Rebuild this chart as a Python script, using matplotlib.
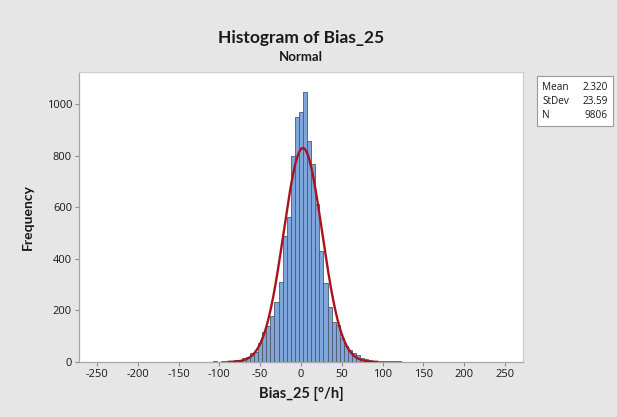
import matplotlib
matplotlib.use("Agg")
import matplotlib.pyplot as plt
from matplotlib.patches import Rectangle
import numpy as np

plt.rcParams['font.family'] = ['Open Sans', 'DejaVu Sans']
plt.rcParams['axes.unicode_minus'] = False
bold_font = ['Lato', 'DejaVu Sans']

# bin midpoints (width 5) and frequencies
mids = list(range(-145, 155, 5))
counts = [1, 0, 1, 1, 1, 1, 1, 1, 2, 1, 2, 2, 3, 6, 9, 14, 20, 35, 40, 72,
          115, 141, 180, 231, 311, 490, 561, 798, 948, 970, 1045, 857, 766,
          611, 432, 305, 214, 154, 143, 92, 62, 47, 36, 27, 17, 10, 8, 5, 4,
          3, 3, 2, 2, 5, 1, 1, 1, 1, 1, 1]
bin_width = 5

mean = 2.320
stdev = 23.59
n_obs = 9806

xticks = [-250, -200, -150, -100, -50, 0, 50, 100, 150, 200, 250]
yticks = [0, 200, 400, 600, 800, 1000]

bg = '#e6e6e6'
fig = plt.figure(figsize=(6.17, 4.17), dpi=100, facecolor=bg)
ax = fig.add_axes([79 / 617, 1 - 362 / 417, 444 / 617, 290 / 417])
ax.set_facecolor('white')

ax.bar(mids, counts, width=bin_width, color='#7ea6dc', edgecolor='#505a66',
       linewidth=0.6, zorder=2)

# fitted normal curve
xs = np.linspace(mean - 3.85 * stdev, mean + 3.85 * stdev, 400)
ys = n_obs * bin_width / (stdev * np.sqrt(2 * np.pi)) * \
    np.exp(-0.5 * ((xs - mean) / stdev) ** 2)
ax.plot(xs, ys, color='#a8141e', lw=1.7, zorder=3)

ax.set_xlim(-272, 272)
ax.set_ylim(0, 1124)
ax.set_xticks(xticks)
ax.set_yticks(yticks)
ax.tick_params(direction='out', length=3, width=0.8, color='#8c8c8c',
               labelsize=8, labelcolor='#1a1a1a', pad=2)
for side, s in ax.spines.items():
    s.set_color('#a6a6a6' if side in ('left', 'bottom') else '#cfcfcf')
    s.set_linewidth(0.9)

ax.set_ylabel('Frequency', fontsize=10, color='#1a1a1a', labelpad=9,
              fontweight='bold', family=bold_font)
ax.set_xlabel('Bias_25 [°/h]', fontsize=10.5, color='#1a1a1a', labelpad=5,
              fontweight='bold', family=bold_font)

cx = (79 + 523) / 2 / 617
fig.text(cx, 1 - 38 / 417, 'Histogram of Bias_25', ha='center', va='center',
         fontsize=12.5, fontweight='bold', color='#1a1a1a', family=bold_font)
fig.text(cx, 1 - 57 / 417, 'Normal', ha='center', va='center',
         fontsize=9.5, fontweight='bold', color='#1a1a1a', family=bold_font)

# statistics box
fig.patches.append(Rectangle((537 / 617, 1 - 126 / 417), 76 / 617, 50 / 417,
                             transform=fig.transFigure, facecolor='white',
                             edgecolor='#9a9a9a', lw=0.8))
stats = [('Mean', f'{mean:.3f}'), ('StDev', f'{stdev:.2f}'), ('N', f'{n_obs}')]
for i, (lab, val) in enumerate(stats):
    y = 1 - (87 + i * 14.5) / 417
    fig.text(542 / 617, y, lab, ha='left', va='center', fontsize=7.2,
             color='#1a1a1a')
    fig.text(608 / 617, y, val, ha='right', va='center', fontsize=7.2,
             color='#1a1a1a')

fig.savefig('out.png', dpi=100, facecolor=bg)
